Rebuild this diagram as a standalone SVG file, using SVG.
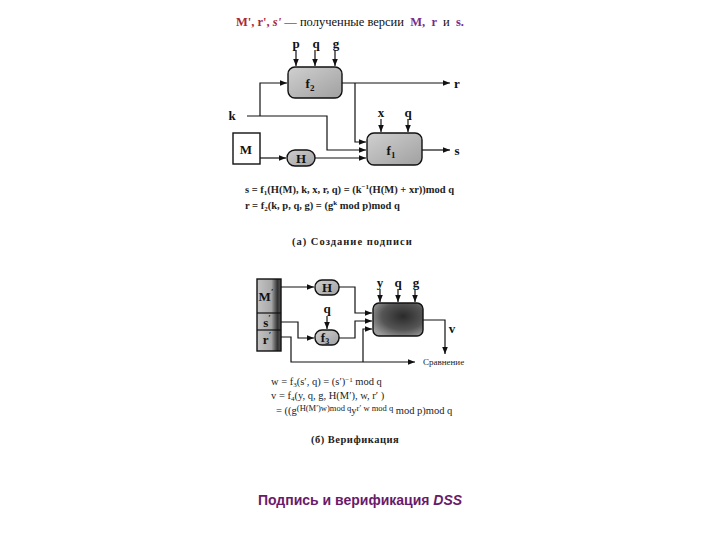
<svg xmlns="http://www.w3.org/2000/svg" width="720" height="540" viewBox="0 0 720 540">
<defs>
<marker id="ah" viewBox="0 0 10 10" refX="10" refY="5" markerWidth="7" markerHeight="7" markerUnits="userSpaceOnUse" orient="auto">
<path d="M0,1 L10,5 L0,9 z" fill="#111"/>
</marker>
<linearGradient id="g1" x1="0" y1="0" x2="1" y2="1">
<stop offset="0" stop-color="#d0d0d0"/>
<stop offset="1" stop-color="#a0a0a0"/>
</linearGradient>
<radialGradient id="g2" cx="0.6" cy="0.4" r="0.7">
<stop offset="0" stop-color="#2a2a2a"/>
<stop offset="0.6" stop-color="#555"/>
<stop offset="1" stop-color="#9a9a9a"/>
</radialGradient>
<linearGradient id="g3" x1="0" y1="0" x2="1" y2="0">
<stop offset="0" stop-color="#c4c4c4"/>
<stop offset="0.6" stop-color="#a8a8a8"/>
<stop offset="0.85" stop-color="#333"/>
<stop offset="1" stop-color="#555"/>
</linearGradient>
</defs>
<style>
.lbl{font-family:"Liberation Serif",serif;font-weight:bold;font-size:13px;fill:#111}
.sm{font-family:"Liberation Serif",serif;font-weight:bold;font-size:10.5px;fill:#222}
.nm{font-family:"Liberation Serif",serif;font-weight:normal;font-size:10.5px;fill:#222}
.ln{fill:none;stroke:#111;stroke-width:1.2}
.box{stroke:#111;stroke-width:1.4}
</style>
<rect width="720" height="540" fill="#fff"/>

<text x="236" y="26" font-family="Liberation Serif, serif" font-size="12.5" xml:space="preserve"><tspan fill="#a8283a" font-weight="bold">M', r', </tspan><tspan fill="#a8283a" font-weight="bold" font-style="italic">s'</tspan><tspan fill="#111"> — полученные версии  </tspan><tspan fill="#7a2a8a" font-weight="bold">M,  r </tspan><tspan fill="#111"> и  </tspan><tspan fill="#7a2a8a" font-weight="bold">s.</tspan></text>

<g id="connectors-a">
<path class="ln" d="M296,50 V66" marker-end="url(#ah)"/>
<path class="ln" d="M315,50 V66" marker-end="url(#ah)"/>
<path class="ln" d="M335,50 V66" marker-end="url(#ah)"/>
<path class="ln" d="M247,116 H327 V150 H366" marker-end="url(#ah)"/>
<path class="ln" d="M260,116 V83 H287" marker-end="url(#ah)"/>
<path class="ln" d="M342,83 H450" marker-end="url(#ah)"/>
<path class="ln" d="M355,83 V142 H366" marker-end="url(#ah)"/>
<path class="ln" d="M381,119 V132" marker-end="url(#ah)"/>
<path class="ln" d="M408,119 V132" marker-end="url(#ah)"/>
<path class="ln" d="M422,150 H450" marker-end="url(#ah)"/>
<path class="ln" d="M260,158 H286" marker-end="url(#ah)"/>
<path class="ln" d="M315,158 H366" marker-end="url(#ah)"/>
</g>

<g id="labels-a">
<text class="lbl" x="296" y="48" text-anchor="middle">p</text>
<text class="lbl" x="316" y="48" text-anchor="middle">q</text>
<text class="lbl" x="336" y="48" text-anchor="middle">g</text>
<text class="lbl" x="232" y="120" text-anchor="middle">k</text>
<text class="lbl" x="457" y="88" text-anchor="middle">r</text>
<text class="lbl" x="457" y="155" text-anchor="middle">s</text>
<text class="lbl" x="381" y="117" text-anchor="middle">x</text>
<text class="lbl" x="408" y="117" text-anchor="middle">q</text>
</g>

<g id="f2">
<rect class="box" x="288" y="67" width="54" height="31" rx="7" fill="url(#g1)"/>
<text class="lbl" x="310" y="88" text-anchor="middle">f<tspan font-size="9" dy="3">2</tspan></text>
</g>
<g id="f1">
<rect class="box" x="367" y="133" width="55" height="32" rx="7" fill="url(#g1)"/>
<text class="lbl" x="391" y="155" text-anchor="middle">f<tspan font-size="9" dy="3">1</tspan></text>
</g>
<g id="M">
<rect class="box" x="233" y="133" width="27" height="31" fill="#fff"/>
<text class="lbl" x="246" y="154" text-anchor="middle" font-size="12">M</text>
</g>
<g id="H">
<rect class="box" x="287" y="150" width="28" height="16" rx="8" fill="url(#g1)"/>
<text class="lbl" x="301" y="163" text-anchor="middle" font-size="12">H</text>
</g>

<g id="formulas-a">
<text class="sm" x="245" y="193">s = f<tspan font-size="7" dy="2">1</tspan><tspan dy="-2">(H(M), k, x, r, q) = (k</tspan><tspan font-size="7" dy="-4">−1</tspan><tspan dy="4">(H(M) + xr))mod q</tspan></text>
<text class="sm" x="245" y="209">r = f<tspan font-size="7" dy="2">2</tspan><tspan dy="-2">(k, p, q, g) = (g</tspan><tspan font-size="7" dy="-4">k</tspan><tspan dy="4"> mod p)mod q</tspan></text>
<text class="sm" x="292" y="245" font-size="11" letter-spacing="1">(а) Создание подписи</text>
</g>

<g id="connectors-b">
<path class="ln" d="M281,287 H314" marker-end="url(#ah)"/>
<path class="ln" d="M339,287 H355 V313 H372" marker-end="url(#ah)"/>
<path class="ln" d="M327,316 V329" marker-end="url(#ah)"/>
<path class="ln" d="M281,322 H298 V338 H314" marker-end="url(#ah)"/>
<path class="ln" d="M339,338 H355 V321 H372" marker-end="url(#ah)"/>
<path class="ln" d="M281,337 H291 V362 H415" marker-end="url(#ah)"/>
<path class="ln" d="M363,362 V329 H372" marker-end="url(#ah)"/>
<path class="ln" d="M380,289 V302" marker-end="url(#ah)"/>
<path class="ln" d="M398,289 V302" marker-end="url(#ah)"/>
<path class="ln" d="M415,289 V302" marker-end="url(#ah)"/>
<path class="ln" d="M423,320 H445 V354" marker-end="url(#ah)"/>
</g>

<g id="labels-b">
<text class="lbl" x="380" y="287" text-anchor="middle" font-size="12">y</text>
<text class="lbl" x="398" y="287" text-anchor="middle" font-size="12">q</text>
<text class="lbl" x="416" y="287" text-anchor="middle" font-size="12">g</text>
<text class="lbl" x="327" y="313" text-anchor="middle" font-size="12">q</text>
<text class="lbl" x="452" y="333" text-anchor="middle" font-size="12">v</text>
<text x="423" y="365" font-family="Liberation Serif, serif" font-size="9" fill="#222">Сравнение</text>
</g>

<g id="msr">
<rect class="box" x="257" y="279" width="24" height="72" fill="url(#g3)"/>
<line class="ln" x1="257" y1="313" x2="281" y2="313"/>
<line class="ln" x1="257" y1="330" x2="281" y2="330"/>
<text class="lbl" x="266" y="301" text-anchor="middle" font-size="12">M<tspan font-size="9" dy="-6">′</tspan></text>
<text class="lbl" x="267" y="327" text-anchor="middle" font-size="12">s<tspan font-size="9" dy="-6">′</tspan></text>
<text class="lbl" x="267" y="344" text-anchor="middle" font-size="12">r<tspan font-size="9" dy="-6">′</tspan></text>
</g>
<g id="H2">
<rect class="box" x="315" y="280" width="24" height="15" rx="7" fill="url(#g1)"/>
<text class="lbl" x="327" y="292" text-anchor="middle" font-size="11">H</text>
</g>
<g id="f3">
<rect class="box" x="315" y="330" width="24" height="15" rx="7" fill="url(#g1)"/>
<text class="lbl" x="325" y="342" text-anchor="middle" font-size="11">f<tspan font-size="8" dy="2">3</tspan></text>
</g>
<g id="f4">
<rect class="box" x="373" y="303" width="50" height="33" rx="6" fill="url(#g2)"/>
</g>

<g id="formulas-b">
<text class="nm" x="271" y="385">w = f<tspan font-size="7" dy="2">3</tspan><tspan dy="-2">(s′, q) = (s′)</tspan><tspan font-size="7" dy="-3">−1</tspan><tspan dy="3"> mod q</tspan></text>
<text class="nm" x="271" y="399">v = f<tspan font-size="7" dy="2">4</tspan><tspan dy="-2">(y, q, g, H(M′), w, r′ )</tspan></text>
<text class="nm" x="276" y="414">= ((g<tspan font-size="8.5" dy="-3">(H(M′)w)mod q</tspan><tspan dy="3">y</tspan><tspan font-size="8.5" dy="-3">r′ w mod q</tspan><tspan dy="3"> mod p)mod q</tspan></text>
<text class="sm" x="311" y="443" font-size="11" letter-spacing="0.5">(б) Верификация</text>
</g>

<text x="360" y="505" text-anchor="middle" font-family="Liberation Sans, sans-serif" font-weight="bold" font-size="14" fill="#6a1a6a">Подпись и верификация <tspan font-style="italic">DSS</tspan></text>
</svg>
